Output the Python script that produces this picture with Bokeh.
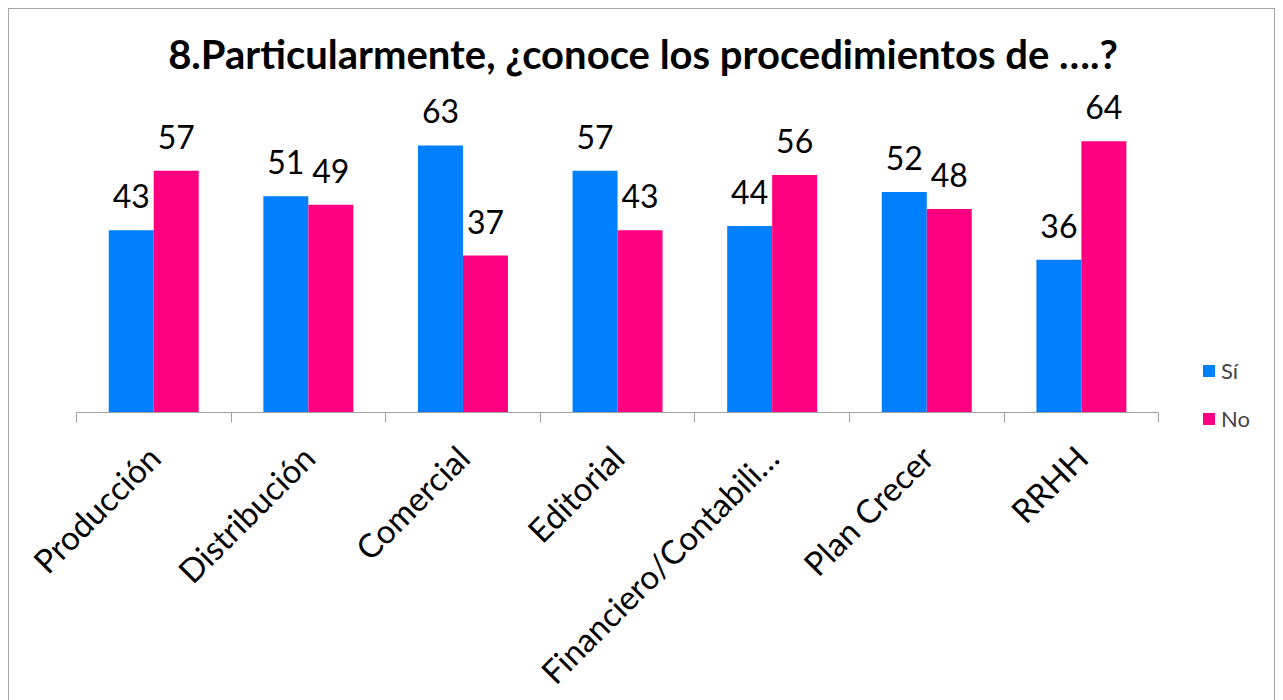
import math
from bokeh.plotting import figure
from bokeh.models import Range1d, FixedTicker, Legend, LegendItem, ColumnDataSource, LabelSet
from bokeh.transform import dodge
from bokeh.core.properties import value
from bokeh.embed import file_html
from bokeh.resources import INLINE

categories = ["Producción", "Distribución", "Comercial", "Editorial",
              "Financiero/Contabili…", "Plan Crecer", "RRHH"]
si = [43, 51, 63, 57, 44, 52, 36]
no = [57, 49, 37, 43, 56, 48, 64]
series_names = ["Sí", "No"]
title_text = "8.Particularmente, ¿conoce los procedimientos de ….?"

BLUE = "#0080FF"
PINK = "#FF0080"
GRAY = "#a0a0a0"
FONT = "Lato"

n = len(categories)
idx = list(range(n))
src = ColumnDataSource(dict(x=idx, si=si, no=no,
                            si_lbl=[str(v) for v in si],
                            no_lbl=[str(v) for v in no]))

p = figure(width=1267, height=692, output_backend="svg", toolbar_location=None,
           x_range=Range1d(-0.933, 7.262), y_range=Range1d(-68.2, 76.9),
           min_border_left=0, min_border_right=0, min_border_top=77,
           min_border_bottom=0)
p.margin = (8, 0, 0, 8)
p.styles = {"border-top": "1px solid #a6a6a6", "border-left": "1px solid #a6a6a6",
            "border-right": "1px solid #a6a6a6"}
p.outline_line_color = None
p.grid.visible = False
p.yaxis.visible = False

bw = 0.291
r_si = p.vbar(x=dodge("x", -bw / 2, range=p.x_range), top="si", width=bw,
              source=src, fill_color=BLUE, line_color=None)
r_no = p.vbar(x=dodge("x", bw / 2, range=p.x_range), top="no", width=bw,
              source=src, fill_color=PINK, line_color=None)

for col, lbl, off in (("si", "si_lbl", -bw / 2), ("no", "no_lbl", bw / 2)):
    ls = LabelSet(x=dodge("x", off, range=p.x_range), y=col, text=lbl, source=src,
                  text_align="center", text_baseline="alphabetic", y_offset=22,
                  text_font=value(FONT), text_font_size="32px", text_color="#000000")
    p.add_layout(ls)

ax = p.xaxis[0]
ax.fixed_location = 0
ax.bounds = (-0.5, n - 0.5)
ax.ticker = FixedTicker(ticks=idx, minor_ticks=[i - 0.5 for i in range(n + 1)])
ax.major_label_overrides = {i: c for i, c in enumerate(categories)}
ax.major_label_orientation = math.pi / 4
ax.major_tick_out = 0
ax.major_tick_in = 0
ax.minor_tick_out = 10
ax.minor_tick_in = 0
ax.minor_tick_line_color = GRAY
ax.axis_line_color = GRAY
ax.major_label_text_font = FONT
ax.major_label_text_font_size = "33px"
ax.major_label_text_color = "#000000"
ax.major_label_standoff = 29

p.title.text = title_text
p.title.text_font = FONT
p.title.text_font_style = "bold"
p.title.text_font_size = "40px"
p.title.align = "center"
p.title.text_color = "#000000"
p.title.standoff = 17

legend = Legend(items=[LegendItem(label=series_names[0], renderers=[r_si]),
                       LegendItem(label=series_names[1], renderers=[r_no])],
                location=(1192, 268), glyph_width=15, glyph_height=15,
                label_text_font=FONT, label_text_font_size="22px",
                label_height=30, spacing=18, padding=0, margin=0,
                border_line_alpha=0, background_fill_alpha=0)
p.add_layout(legend)

open("out.html", "w").write(file_html(p, INLINE))
